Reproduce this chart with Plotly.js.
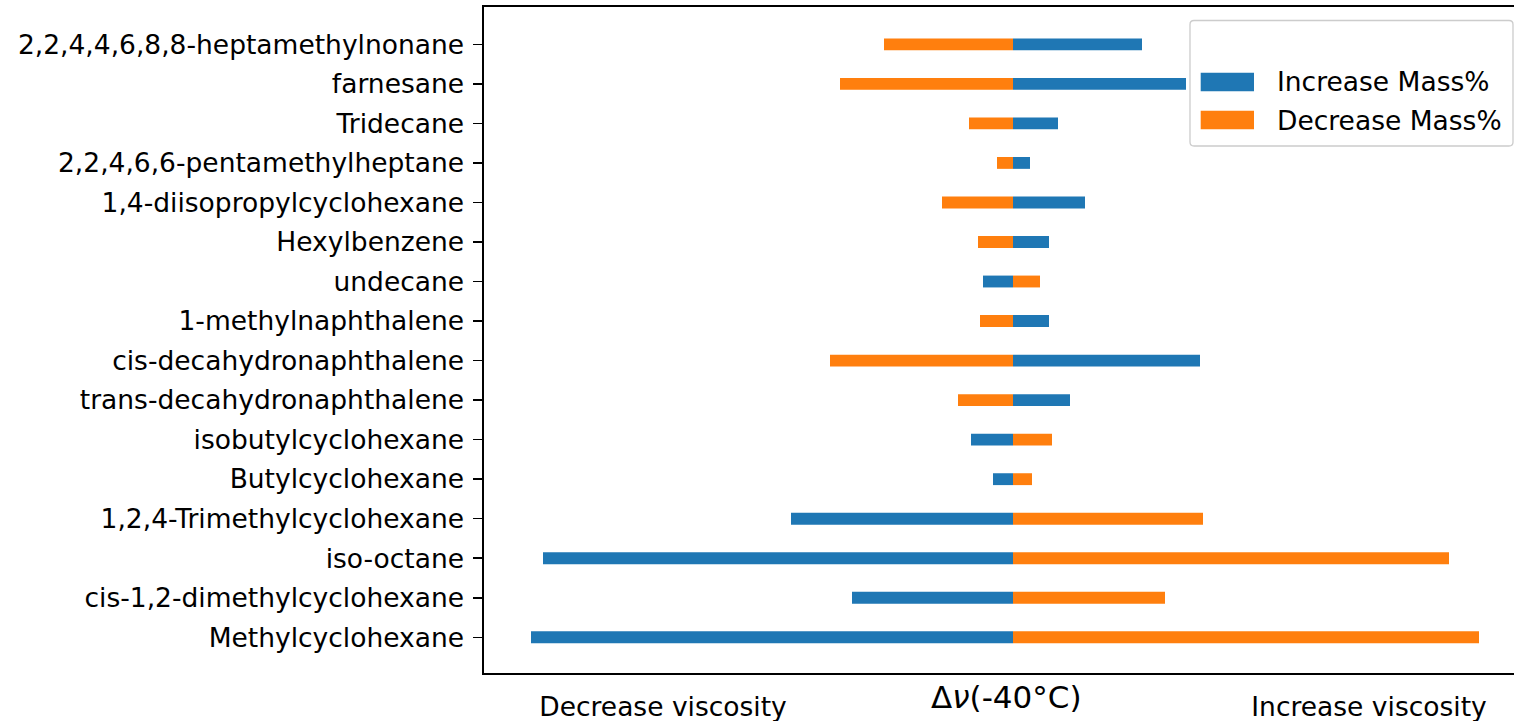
<!DOCTYPE html>
<html>
<head>
<meta charset="utf-8">
<script src="https://cdn.plot.ly/plotly-3.0.1.min.js"></script>
<style>
  html, body { margin: 0; padding: 0; overflow: hidden; background: #fff; }
  #chart { width: 1530px; height: 721px; }
</style>
</head>
<body>
<div id="chart"></div>
<script>
// Categories, top to bottom as shown
const compounds = [
  '2,2,4,4,6,8,8-heptamethylnonane',
  'farnesane',
  'Tridecane',
  '2,2,4,6,6-pentamethylheptane',
  '1,4-diisopropylcyclohexane',
  'Hexylbenzene',
  'undecane',
  '1-methylnaphthalene',
  'cis-decahydronaphthalene',
  'trans-decahydronaphthalene',
  'isobutylcyclohexane',
  'Butylcyclohexane',
  '1,2,4-Trimethylcyclohexane',
  'iso-octane',
  'cis-1,2-dimethylcyclohexane',
  'Methylcyclohexane'
];
// Change in viscosity at -40°C (arbitrary units), same order
const increaseMass = [1.29, 1.73, 0.45, 0.17, 0.72, 0.36, -0.30, 0.36, 1.87, 0.57, -0.42, -0.20, -2.22, -4.70, -1.61, -4.82];
const decreaseMass = [-1.29, -1.73, -0.44, -0.16, -0.71, -0.35, 0.27, -0.33, -1.83, -0.55, 0.39, 0.19, 1.90, 4.36, 1.52, 4.66];
const seriesNames = ['Increase Mass%', 'Decrease Mass%'];
const xTickLabels = ['Decrease viscosity', 'Increase viscosity'];
const xTickPositions = [-3.5, 3.56];
const xTitle = 'Δ<i>ν</i>(-40°C)';

const colors = ['#1f77b4', '#ff7f0e'];
const FONT = 'DejaVu Sans, Liberation Sans, sans-serif';

const traces = [increaseMass, decreaseMass].map((vals, i) => ({
  type: 'bar',
  orientation: 'h',
  name: seriesNames[i],
  y: compounds,
  x: vals,
  width: 0.3,
  marker: { color: colors[i], line: { width: 0 } },
  showlegend: false,
  hoverinfo: 'x+y+name'
}));

// Plot area geometry (px) for the hand-made legend
const W = 1530, H = 721, ML = 484, MR = 5, MT = 7, MB = 48;
const PW = W - ML - MR, PH = H - MT - MB;
const px = x => (x - ML) / PW;
const py = y => (H - MB - y) / PH;

// rounded legend frame
function roundRect(x0, y0, x1, y1, r) {
  const X = v => px(v).toFixed(6), Y = v => py(v).toFixed(6);
  return 'M' + X(x0 + r) + ',' + Y(y0) + ' L' + X(x1 - r) + ',' + Y(y0) +
    ' Q' + X(x1) + ',' + Y(y0) + ' ' + X(x1) + ',' + Y(y0 + r) +
    ' L' + X(x1) + ',' + Y(y1 - r) +
    ' Q' + X(x1) + ',' + Y(y1) + ' ' + X(x1 - r) + ',' + Y(y1) +
    ' L' + X(x0 + r) + ',' + Y(y1) +
    ' Q' + X(x0) + ',' + Y(y1) + ' ' + X(x0) + ',' + Y(y1 - r) +
    ' L' + X(x0) + ',' + Y(y0 + r) +
    ' Q' + X(x0) + ',' + Y(y0) + ' ' + X(x0 + r) + ',' + Y(y0) + ' Z';
}

const shapes = [
  { type: 'path', xref: 'paper', yref: 'paper', path: roundRect(1190, 20.5, 1513, 146, 4),
    fillcolor: 'rgba(255,255,255,0.8)', line: { color: '#cccccc', width: 1.3 }, layer: 'above' }
];
const annotations = [];
const legendRows = [82, 120];
seriesNames.forEach((nm, i) => {
  shapes.push({ type: 'rect', xref: 'paper', yref: 'paper',
    x0: px(1200.7), x1: px(1254), y0: py(legendRows[i] + 9.2), y1: py(legendRows[i] - 9.2),
    fillcolor: colors[i], line: { width: 0 }, layer: 'above' });
  annotations.push({ xref: 'paper', yref: 'paper', x: px(1275), y: py(legendRows[i]),
    xanchor: 'left', yanchor: 'middle', text: nm, showarrow: false,
    font: { family: FONT, size: 26.5, color: '#000' } });
});
annotations.push({ xref: 'paper', yref: 'paper', x: px(1006), y: py(697), xanchor: 'center', yanchor: 'middle',
  text: xTitle, showarrow: false, font: { family: FONT, size: 31, color: '#000' } });

const layout = {
  width: W, height: H,
  margin: { l: ML, r: MR, t: MT, b: MB, pad: 0 },
  paper_bgcolor: '#fff', plot_bgcolor: '#fff',
  barmode: 'overlay',
  font: { family: FONT, size: 26, color: '#000' },
  xaxis: {
    range: [-(1013 - ML) / 100, (W - MR - 1013) / 100],
    showgrid: false, zeroline: false,
    showline: true, mirror: true, linecolor: '#000', linewidth: 1.6,
    tickmode: 'array', tickvals: xTickPositions, ticktext: xTickLabels,
    ticks: '', ticklabelstandoff: 10,
    tickfont: { family: FONT, size: 26.5, color: '#000' },
    fixedrange: true
  },
  yaxis: {
    type: 'category', categoryorder: 'array', categoryarray: compounds.slice().reverse(),
    range: [-0.903, 15.944],
    showgrid: false, zeroline: false,
    showline: true, mirror: true, linecolor: '#000', linewidth: 1.6,
    ticks: 'outside', ticklen: 9, tickwidth: 1.5, tickcolor: '#000',
    ticklabelstandoff: 4,
    tickfont: { family: FONT, size: 26.5, color: '#000' },
    automargin: false, fixedrange: true
  },
  shapes: shapes,
  annotations: annotations,
  showlegend: false
};

Plotly.newPlot('chart', traces, layout, { displayModeBar: false, staticPlot: true });
</script>
</body>
</html>
